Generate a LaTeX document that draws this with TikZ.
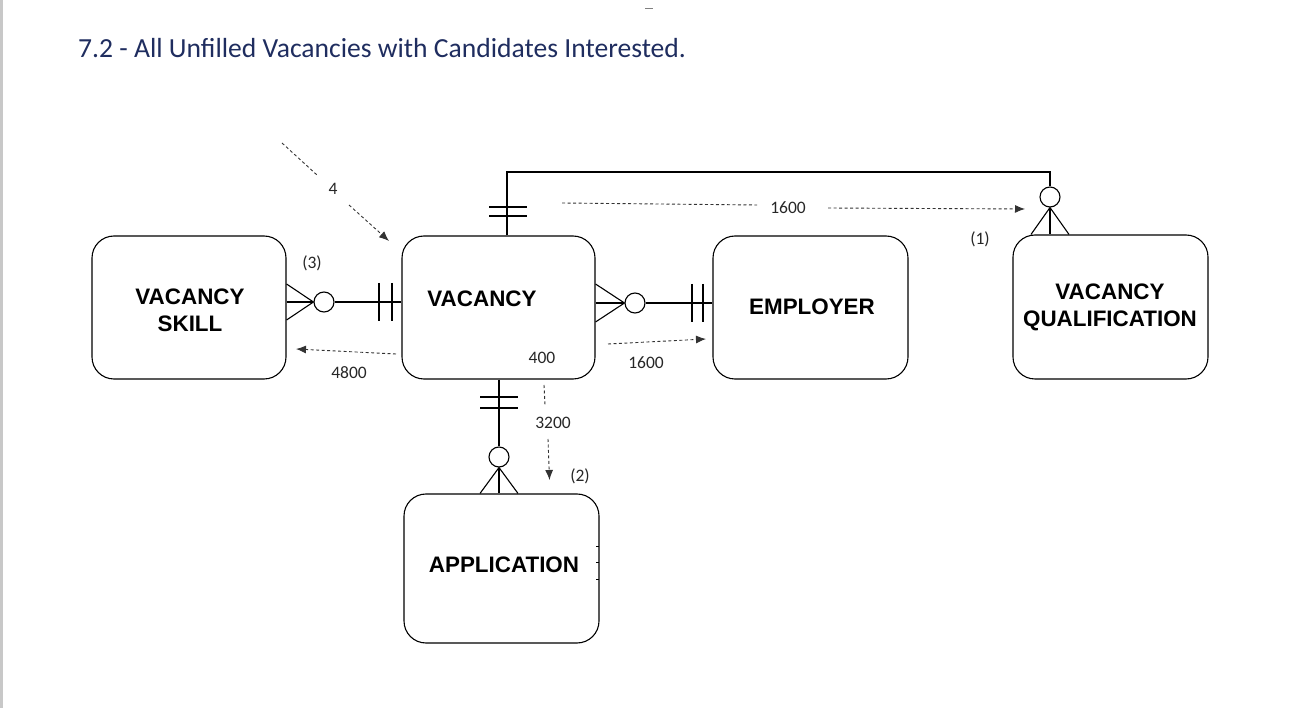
\documentclass[tikz,border=0pt]{standalone}
\usepackage{fontspec}
\setmainfont{Carlito}
\newfontfamily\boxfont{Liberation Sans}
\usetikzlibrary{arrows.meta}
\definecolor{titleblue}{HTML}{1F2D5F}
\definecolor{dashgrey}{HTML}{333333}
\definecolor{edgegrey}{HTML}{C8C8C8}
\tikzset{
  ent/.style={draw, line width=1.1pt, rounded corners=22pt, inner sep=0pt},
  enttext/.style={font=\boxfont\bfseries\fontsize{22.4}{27}\selectfont, align=center, inner sep=0pt},
  rel/.style={line width=1.1pt},
  crow/.style={draw, circle, line width=1.1pt, minimum size=20pt, inner sep=0pt, fill=white},
  annot/.style={dashgrey, line width=0.9pt, dash pattern=on 3pt off 2.5pt},
  annotarrow/.style={annot, -{Latex[length=10pt,width=8pt]}},
  lbl/.style={font=\fontsize{17.5}{20}\selectfont, text=black!85, inner sep=0pt},
}
\begin{document}
\begin{tikzpicture}[x=1pt,y=-1pt]
\useasboundingbox (0,0) rectangle (1294,708);
\fill[edgegrey] (0,0) rectangle (2.5,708);
\draw[gray, line width=1pt] (645,9) -- (653,9);

% title
\node[anchor=base west, inner sep=0pt, text=titleblue, font=\fontsize{27.6}{32}\selectfont] (title) at (78,58) {7.2 - All Unfilled Vacancies with Candidates Interested.};

% entities
\node[ent, minimum width=194pt, minimum height=143pt] (vs) at (189,307.5) {};
\node[ent, minimum width=193pt, minimum height=143pt] (vac) at (498.5,307.5) {};
\node[ent, minimum width=195pt, minimum height=143pt] (emp) at (810.5,307.5) {};
\node[ent, minimum width=195pt, minimum height=144pt] (vq) at (1110.5,307) {};
\node[ent, minimum width=195pt, minimum height=149pt] (app) at (501.5,568.5) {};

\node[enttext] (vst) at (190,310.5) {VACANCY\\SKILL};
\node[enttext] (vact) at (482,299) {VACANCY};
\node[enttext] (empt) at (812,307) {EMPLOYER};
\node[enttext] (vqt) at (1110,307.5) {VACANCY\\QUALIFICATION};
\node[enttext] (appt) at (504,565) {APPLICATION};

% ticks on APPLICATION right border
\draw[line width=0.8pt] (596,546) -- (599,546) (596,562) -- (599,562) (596,579) -- (599,579);

% ---- VACANCY SKILL -- VACANCY
\coordinate (l1) at (0,302);
\node[crow] (c1) at (324,302) {};
\draw[rel] (vs.east |- l1) -- (c1.west);
\draw[rel] (vs.east |- 0,284) -- (c1.west) -- (vs.east |- 0,320);
\draw[rel] (c1.east) -- (vac.west |- l1);
\draw[rel] (379,283) -- (379,321) (392,283) -- (392,321);

% ---- VACANCY -- EMPLOYER
\coordinate (l2) at (0,303);
\node[crow] (c2) at (635,303) {};
\draw[rel] (vac.east |- l2) -- (c2.west);
\draw[rel] (vac.east |- 0,284) -- (c2.west) -- (vac.east |- 0,322);
\draw[rel] (c2.east) -- (emp.west |- l2);
\draw[rel] (692,284) -- (692,322) (703,284) -- (703,322);

% ---- VACANCY -- VACANCY QUALIFICATION
\coordinate (t1) at (507,172);
\coordinate (t2) at (1050,172);
\node[crow] (c3) at (1050,197) {};
\draw[rel] (vac.north -| t1) -- (t1) -- (t2) -- (c3.north);
\draw[rel] (c3.south) -- (vq.north -| t2);
\draw[rel] (vq.north -| 1031,0) -- (c3.south) -- (vq.north -| 1069,0);
\draw[rel] (489,207) -- (527,207) (489,216) -- (527,216);

% ---- VACANCY -- APPLICATION
\coordinate (b1) at (499,0);
\node[crow] (c4) at (499,457) {};
\draw[rel] (vac.south -| b1) -- (c4.north);
\draw[rel] (c4.south) -- (app.north -| b1);
\draw[rel] (app.north -| 480,0) -- (c4.south) -- (app.north -| 518,0);
\draw[rel] (480,397) -- (518,397) (480,408) -- (518,408);

% ---- annotations
\coordinate (a4s) at (282,143);
\coordinate (a4m) at (317,175);
\coordinate (a4n) at (349,205);
\coordinate (a4e) at (389,241);
\draw[annot] (a4s) -- (a4m);
\draw[annotarrow] (a4n) -- (a4e);
\node[lbl] (n4) at (333,189) {4};

\coordinate (q1s) at (562,203);
\coordinate (q1m) at (757,205);
\coordinate (q1n) at (828,208);
\coordinate (q1e) at (1025,209);
\draw[annot] (q1s) -- (q1m);
\draw[annotarrow] (q1n) -- (q1e);
\node[lbl] (n1600a) at (788,208) {1600};
\node[lbl] (n1) at (980,239) {(1)};

\coordinate (e1s) at (608,344);
\coordinate (e1e) at (706,339);
\draw[annotarrow] (e1s) -- (e1e);
\node[lbl] (n1600b) at (646,363) {1600};

\coordinate (s1s) at (396,354);
\coordinate (s1e) at (296,349);
\draw[annotarrow] (s1s) -- (s1e);
\node[lbl] (n4800) at (349,373) {4800};
\node[lbl] (n3) at (312,263) {(3)};

\node[lbl] (n400) at (542,358) {400};

\coordinate (d1s) at (544,385);
\coordinate (d1m) at (545,405);
\coordinate (d1n) at (548,439);
\coordinate (d1e) at (549.5,480);
\draw[annot] (d1s) -- (d1m);
\draw[annotarrow] (d1n) -- (d1e);
\node[lbl] (n3200) at (553,423) {3200};
\node[lbl] (n2) at (580,476) {(2)};
\end{tikzpicture}
\end{document}
